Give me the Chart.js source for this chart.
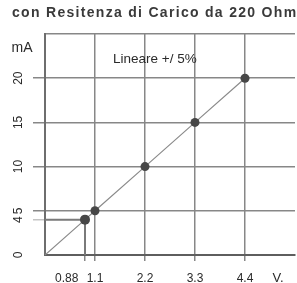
<!DOCTYPE html>
<html>
<head>
<meta charset="utf-8">
<script src="https://cdn.jsdelivr.net/npm/chart.js@4.4.0/dist/chart.umd.min.js"></script>
<style>
  html, body { margin: 0; padding: 0; background: #fff; }
</style>
</head>
<body>
<canvas id="chart" width="297" height="283"></canvas>
<script>
// values
var volts = [0.88, 1.1, 2.2, 3.3, 4.4];
var milliamps = [4, 5, 10, 15, 20];

var xTicks = [0, 0.88, 1.1, 2.2, 3.3, 4.4, 5.5];
var xTickLabels = ['', '0.88', '1.1', '2.2', '3.3', '4.4', ''];
var yTicks = [0, 4, 5, 10, 15, 20, 25];
var yTickLabels = ['0', '4', '5', '10', '15', '20', ''];

var titleText = 'con Resitenza di Carico da 220 Ohm';
var noteText = 'Lineare +/ 5%';
var xUnit = 'V.';
var yUnit = 'mA';

var FONT = '"Liberation Sans", Arial, sans-serif';
var GRID = '#878787';

// curve starts from the origin
var curve = [{x: 0, y: 0}];
for (var i = 0; i < volts.length; i++) {
    curve.push({x: volts[i], y: milliamps[i]});
}
// guide lines for the first reading (to both axes)
var guide = [
    {x: 0, y: milliamps[0]},
    {x: volts[0], y: milliamps[0]},
    {x: volts[0], y: 0}
];

// the 0.88 label sits left of its tick on the sheet, so pad it with spaces
function xLabel(index) {
    var txt = xTickLabels[index];
    if (xTicks[index] === volts[0]) txt = txt + '           ';
    return txt;
}

var textPlugin = {
    id: 'sheetText',
    afterDraw: function (chart) {
        var ctx = chart.ctx;
        var area = chart.chartArea;
        ctx.save();
        ctx.textBaseline = 'middle';

        ctx.font = 'bold 14px ' + FONT;
        ctx.fillStyle = '#3a3a3a';
        ctx.textAlign = 'left';
        if ('letterSpacing' in ctx) ctx.letterSpacing = '1.3px';
        ctx.fillText(titleText, 12, 13);
        if ('letterSpacing' in ctx) ctx.letterSpacing = '0px';

        ctx.fillStyle = '#2a2a2a';
        ctx.font = '14px ' + FONT;
        ctx.textAlign = 'center';
        ctx.fillText(yUnit, 22, area.top + 14);

        ctx.font = '13.5px ' + FONT;
        ctx.textAlign = 'left';
        ctx.fillText(noteText, area.left + 68, area.top + 25);

        ctx.font = '13px ' + FONT;
        ctx.textAlign = 'center';
        ctx.fillText(xUnit, 278, area.bottom + 23);
        ctx.restore();
    }
};

var ctx = document.getElementById('chart');
var chart = new Chart(ctx, {
    type: 'scatter',
    data: {
        datasets: [{
            label: 'I',
            data: curve,
            showLine: true,
            borderColor: '#8a8a8a',
            borderWidth: 1.2,
            pointRadius: [0, 5, 4.5, 4.5, 4.5, 4.5],
            pointBackgroundColor: '#474747',
            pointBorderColor: '#474747',
            pointBorderWidth: 0
        }, {
            label: 'guide',
            data: guide,
            showLine: true,
            borderColor: '#7a7a7a',
            borderWidth: 2,
            pointRadius: 0
        }]
    },
    options: {
        responsive: false,
        devicePixelRatio: 1,
        animation: false,
        layout: { autoPadding: false, padding: { top: 34, right: 2, left: 0, bottom: 0 } },
        plugins: {
            legend: { display: false },
            tooltip: { enabled: false }
        },
        scales: {
            x: {
                type: 'linear',
                min: 0,
                max: 5.5,
                afterBuildTicks: function (scale) {
                    scale.ticks = xTicks.map(function (v) { return {value: v}; });
                },
                afterFit: function (scale) {
                    scale.height = 28;
                    scale.paddingLeft = 0;
                    scale.paddingRight = 0;
                },
                border: { color: '#5e5e5e', width: 2 },
                grid: {
                    lineWidth: 1.5,
                    tickLength: 6,
                    color: function (c) {
                        var v = c.tick ? c.tick.value : null;
                        if (v === volts[0] || v === 5.5) return 'rgba(0,0,0,0)';
                        return GRID;
                    },
                    tickColor: function (c) {
                        var v = c.tick ? c.tick.value : null;
                        if (v === 0 || v === 5.5) return 'rgba(0,0,0,0)';
                        return GRID;
                    }
                },
                ticks: {
                    autoSkip: false,
                    maxRotation: 0,
                    padding: 10,
                    color: '#2a2a2a',
                    font: { family: FONT, size: 12 },
                    callback: function (value, index) { return xLabel(index); }
                }
            },
            y: {
                type: 'linear',
                min: 0,
                max: 25,
                afterBuildTicks: function (scale) {
                    scale.ticks = yTicks.map(function (v) { return {value: v}; });
                },
                afterFit: function (scale) {
                    scale.width = 45;
                    scale.paddingTop = 0;
                    scale.paddingBottom = 0;
                },
                border: { color: '#6e6e6e', width: 2 },
                grid: {
                    lineWidth: 1.5,
                    tickLength: 12,
                    color: function (c) {
                        var v = c.tick ? c.tick.value : null;
                        if (v === milliamps[0]) return 'rgba(0,0,0,0)';
                        return GRID;
                    },
                    tickColor: function (c) {
                        var v = c.tick ? c.tick.value : null;
                        if (v === 0 || v === 25) return 'rgba(0,0,0,0)';
                        if (v === milliamps[0]) return '#c4c4c4';
                        return GRID;
                    }
                },
                ticks: {
                    autoSkip: false,
                    minRotation: 90,
                    maxRotation: 90,
                    crossAlign: 'center',
                    padding: 8,
                    color: '#2a2a2a',
                    font: { family: FONT, size: 12 },
                    callback: function (value, index) { return yTickLabels[index]; }
                }
            }
        }
    },
    plugins: [textPlugin]
});
</script>
</body>
</html>
